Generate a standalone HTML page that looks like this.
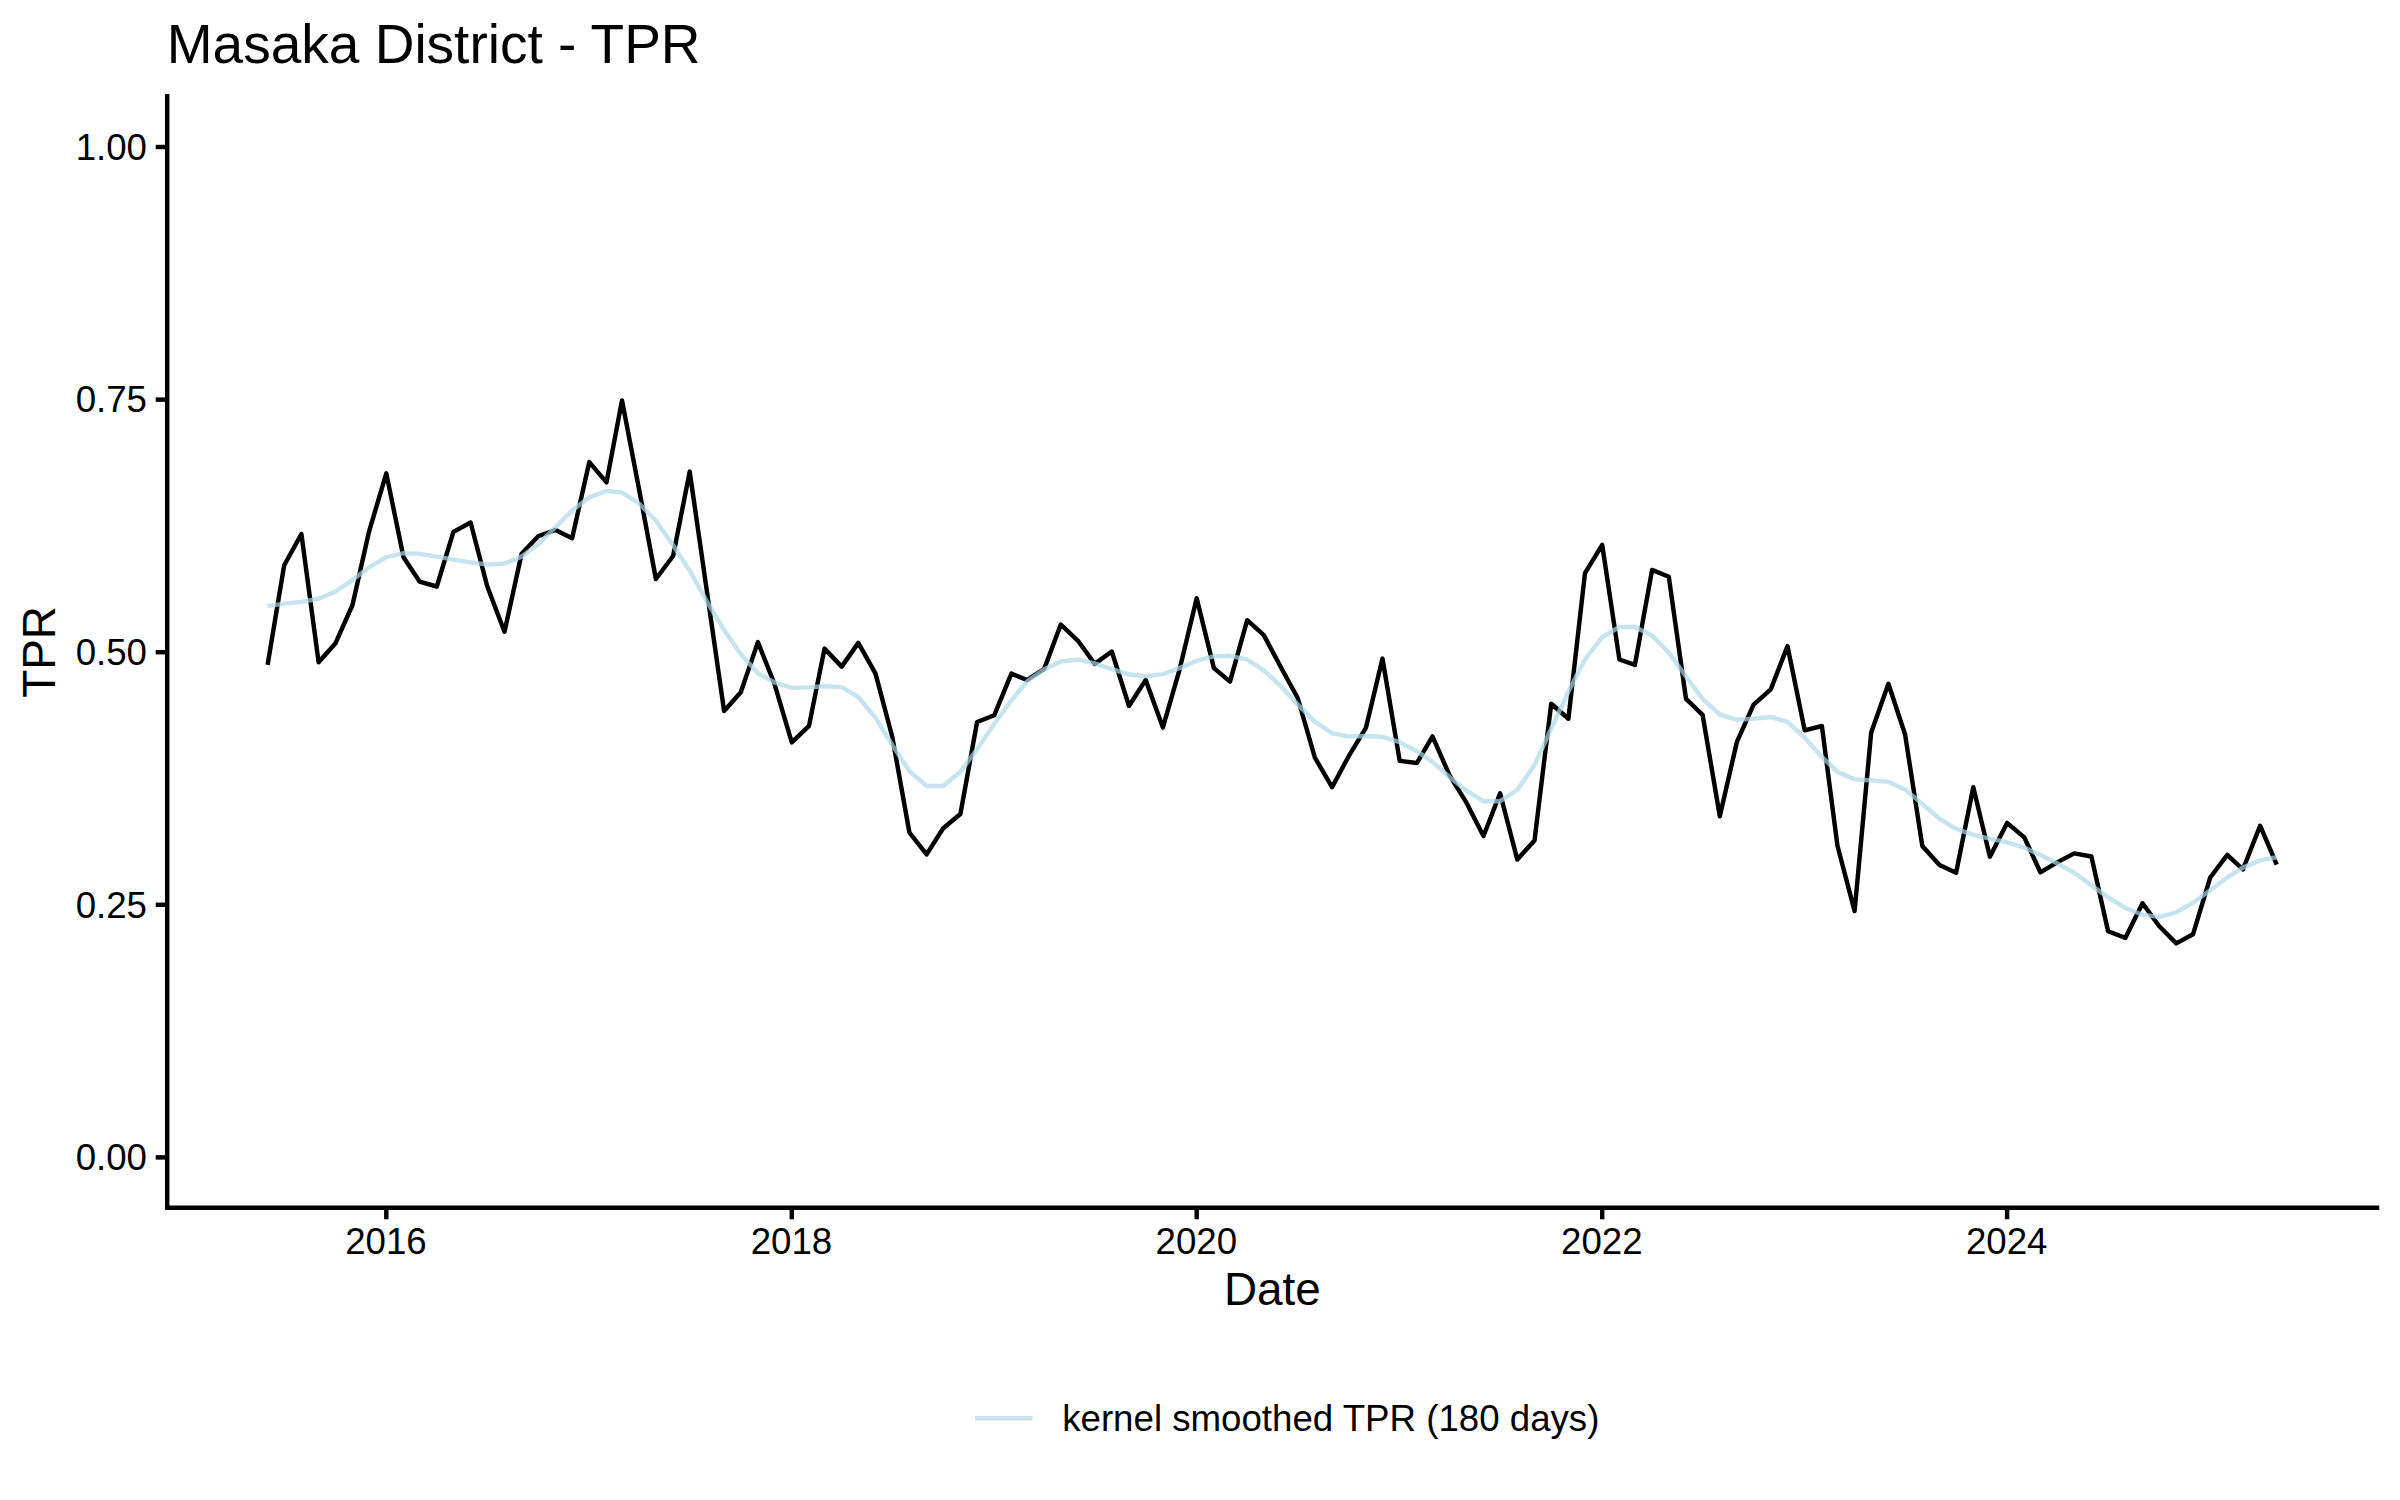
<!DOCTYPE html>
<html><head><meta charset="utf-8"><title>Masaka District - TPR</title>
<style>html,body{margin:0;padding:0;background:#fff}svg{display:block}</style></head>
<body><svg width="2400" height="1500" viewBox="0 0 2400 1500">
<rect width="2400" height="1500" fill="#fff"/>
<path d="M267.6,664.8 L284.2,565.2 L301.4,534.0 L318.6,662.3 L335.3,643.6 L352.5,605.0 L369.1,531.3 L386.3,473.4 L403.5,557.2 L419.6,581.6 L436.8,586.5 L453.4,531.9 L470.6,522.5 L487.3,586.5 L504.5,631.7 L521.6,553.8 L538.3,536.2 L555.5,530.0 L572.1,538.3 L589.3,462.1 L606.5,482.4 L622.0,400.4 L639.2,490.0 L655.9,579.0 L673.1,556.0 L689.7,471.6 L706.9,591.2 L724.1,710.9 L740.8,692.2 L757.9,642.1 L774.6,684.3 L791.8,742.4 L809.0,725.9 L824.5,648.6 L841.7,666.6 L858.3,642.9 L875.5,673.6 L892.2,736.5 L909.4,832.5 L926.6,854.4 L943.2,828.3 L960.4,814.0 L977.1,722.0 L994.3,715.2 L1011.4,673.6 L1027.0,680.0 L1044.2,668.9 L1060.8,624.5 L1078.0,640.8 L1094.7,663.9 L1111.8,651.5 L1129.0,706.0 L1145.7,679.9 L1162.9,727.4 L1179.5,669.8 L1196.7,598.2 L1213.9,668.1 L1230.0,681.6 L1247.2,620.2 L1263.8,635.1 L1281.0,667.5 L1297.7,698.0 L1314.9,757.7 L1332.1,787.1 L1348.7,756.2 L1365.9,727.9 L1382.5,658.6 L1399.7,760.9 L1416.9,763.0 L1432.5,736.3 L1449.7,775.7 L1466.3,802.4 L1483.5,836.0 L1500.1,793.3 L1517.3,859.6 L1534.5,840.4 L1551.2,703.7 L1568.4,718.7 L1585.0,573.1 L1602.2,544.8 L1619.4,659.5 L1634.9,664.9 L1652.1,569.9 L1668.8,576.7 L1686.0,698.9 L1702.6,714.9 L1719.8,816.2 L1737.0,741.6 L1753.6,704.7 L1770.8,689.3 L1787.5,646.1 L1804.7,730.3 L1821.9,726.0 L1837.4,845.5 L1854.6,911.1 L1871.2,732.4 L1888.4,683.8 L1905.1,734.5 L1922.3,845.9 L1939.5,865.1 L1956.1,872.7 L1973.3,787.3 L1989.9,856.7 L2007.1,822.9 L2024.3,837.4 L2040.4,872.3 L2057.6,862.1 L2074.3,853.4 L2091.4,856.5 L2108.1,931.2 L2125.3,937.9 L2142.5,903.3 L2159.1,926.0 L2176.3,943.4 L2193.0,934.3 L2210.2,877.5 L2227.3,854.8 L2242.9,869.5 L2260.1,825.7 L2276.7,864.7" fill="none" stroke="#000" stroke-width="4.45" stroke-linejoin="round" stroke-linecap="butt"/>
<path d="M267.6,606.1 L284.2,603.6 L301.4,601.9 L318.6,598.7 L335.3,591.6 L352.5,580.1 L369.1,567.3 L386.3,557.1 L403.5,553.2 L419.6,553.9 L436.8,556.6 L453.4,559.6 L470.6,562.4 L487.3,564.5 L504.5,563.5 L521.6,556.6 L538.3,544.3 L555.5,527.2 L572.1,510.6 L589.3,497.3 L606.5,490.9 L622.0,492.6 L639.2,503.7 L655.9,520.8 L673.1,545.3 L689.7,570.7 L706.9,601.7 L724.1,630.1 L740.8,654.0 L757.9,673.2 L774.6,682.5 L791.8,687.9 L809.0,687.4 L824.5,686.3 L841.7,687.1 L858.3,697.0 L875.5,717.8 L892.2,744.9 L909.4,771.3 L926.6,786.0 L943.2,786.0 L960.4,771.7 L977.1,749.3 L994.3,723.7 L1011.4,700.3 L1027.0,681.5 L1044.2,669.2 L1060.8,661.5 L1078.0,659.6 L1094.7,663.4 L1111.8,669.2 L1129.0,674.5 L1145.7,676.2 L1162.9,674.1 L1179.5,668.1 L1196.7,660.7 L1213.9,656.4 L1230.0,655.8 L1247.2,659.6 L1263.8,670.3 L1281.0,686.3 L1297.7,704.4 L1314.9,721.9 L1332.1,733.2 L1348.7,736.4 L1365.9,736.0 L1382.5,736.8 L1399.7,742.2 L1416.9,751.2 L1432.5,761.9 L1449.7,777.2 L1466.3,790.5 L1483.5,801.2 L1500.1,801.2 L1517.3,790.0 L1534.5,765.1 L1551.2,728.8 L1568.4,691.5 L1585.0,659.5 L1602.2,637.1 L1619.4,627.0 L1634.9,627.0 L1652.1,635.6 L1668.8,652.6 L1686.0,676.5 L1702.6,698.9 L1719.8,714.5 L1737.0,719.8 L1753.6,718.7 L1770.8,717.0 L1787.5,722.0 L1804.7,737.7 L1821.9,756.9 L1837.4,771.9 L1854.6,779.3 L1871.2,780.4 L1888.4,781.9 L1905.1,789.6 L1922.3,803.9 L1939.5,818.8 L1956.1,828.8 L1973.3,834.8 L1989.9,838.6 L2007.1,842.3 L2024.3,847.6 L2040.4,855.1 L2057.6,863.6 L2074.3,872.8 L2091.4,885.4 L2108.1,897.4 L2125.3,908.0 L2142.5,914.8 L2159.1,916.9 L2176.3,912.4 L2193.0,902.8 L2210.2,890.3 L2227.3,877.5 L2242.9,867.6 L2260.1,860.4 L2276.7,857.2" fill="none" stroke="#ADD8E6" stroke-opacity="0.7" stroke-width="4.45" stroke-linejoin="round" stroke-linecap="butt"/>
<path d="M167.2,96.2 L167.2,1207.8" stroke="#000" stroke-width="4.45" stroke-linecap="square" fill="none"/>
<path d="M167.2,1207.8 L2377,1207.8" stroke="#000" stroke-width="4.45" stroke-linecap="square" fill="none"/>
<path d="M155.7,147.0 L167.2,147.0" stroke="#000" stroke-width="4.45" fill="none"/>
<text x="147" y="159.8" text-anchor="end" font-size="36.67" font-family="Liberation Sans, Arial, sans-serif">1.00</text>
<path d="M155.7,399.6 L167.2,399.6" stroke="#000" stroke-width="4.45" fill="none"/>
<text x="147" y="412.4" text-anchor="end" font-size="36.67" font-family="Liberation Sans, Arial, sans-serif">0.75</text>
<path d="M155.7,652.2 L167.2,652.2" stroke="#000" stroke-width="4.45" fill="none"/>
<text x="147" y="665.0" text-anchor="end" font-size="36.67" font-family="Liberation Sans, Arial, sans-serif">0.50</text>
<path d="M155.7,904.8 L167.2,904.8" stroke="#000" stroke-width="4.45" fill="none"/>
<text x="147" y="917.6" text-anchor="end" font-size="36.67" font-family="Liberation Sans, Arial, sans-serif">0.25</text>
<path d="M155.7,1157.4 L167.2,1157.4" stroke="#000" stroke-width="4.45" fill="none"/>
<text x="147" y="1170.2" text-anchor="end" font-size="36.67" font-family="Liberation Sans, Arial, sans-serif">0.00</text>
<path d="M386.3,1207.8 L386.3,1219.3" stroke="#000" stroke-width="4.45" fill="none"/>
<text x="385.9" y="1254" text-anchor="middle" font-size="36.67" font-family="Liberation Sans, Arial, sans-serif">2016</text>
<path d="M791.8,1207.8 L791.8,1219.3" stroke="#000" stroke-width="4.45" fill="none"/>
<text x="791.4" y="1254" text-anchor="middle" font-size="36.67" font-family="Liberation Sans, Arial, sans-serif">2018</text>
<path d="M1196.7,1207.8 L1196.7,1219.3" stroke="#000" stroke-width="4.45" fill="none"/>
<text x="1196.3" y="1254" text-anchor="middle" font-size="36.67" font-family="Liberation Sans, Arial, sans-serif">2020</text>
<path d="M1602.2,1207.8 L1602.2,1219.3" stroke="#000" stroke-width="4.45" fill="none"/>
<text x="1601.8" y="1254" text-anchor="middle" font-size="36.67" font-family="Liberation Sans, Arial, sans-serif">2022</text>
<path d="M2007.1,1207.8 L2007.1,1219.3" stroke="#000" stroke-width="4.45" fill="none"/>
<text x="2006.7" y="1254" text-anchor="middle" font-size="36.67" font-family="Liberation Sans, Arial, sans-serif">2024</text>
<text x="166.8" y="62.9" font-size="55" font-family="Liberation Sans, Arial, sans-serif">Masaka District - TPR</text>
<text x="1272.3" y="1305" text-anchor="middle" font-size="45.83" font-family="Liberation Sans, Arial, sans-serif">Date</text>
<text transform="translate(55.3,652) rotate(-90)" text-anchor="middle" font-size="45.83" font-family="Liberation Sans, Arial, sans-serif">TPR</text>
<path d="M975,1418.3 L1032.4,1418.3" stroke="#ADD8E6" stroke-opacity="0.7" stroke-width="4.45" fill="none"/>
<text x="1062.2" y="1431" font-size="36.67" font-family="Liberation Sans, Arial, sans-serif">kernel smoothed TPR (180 days)</text>
</svg></body></html>
